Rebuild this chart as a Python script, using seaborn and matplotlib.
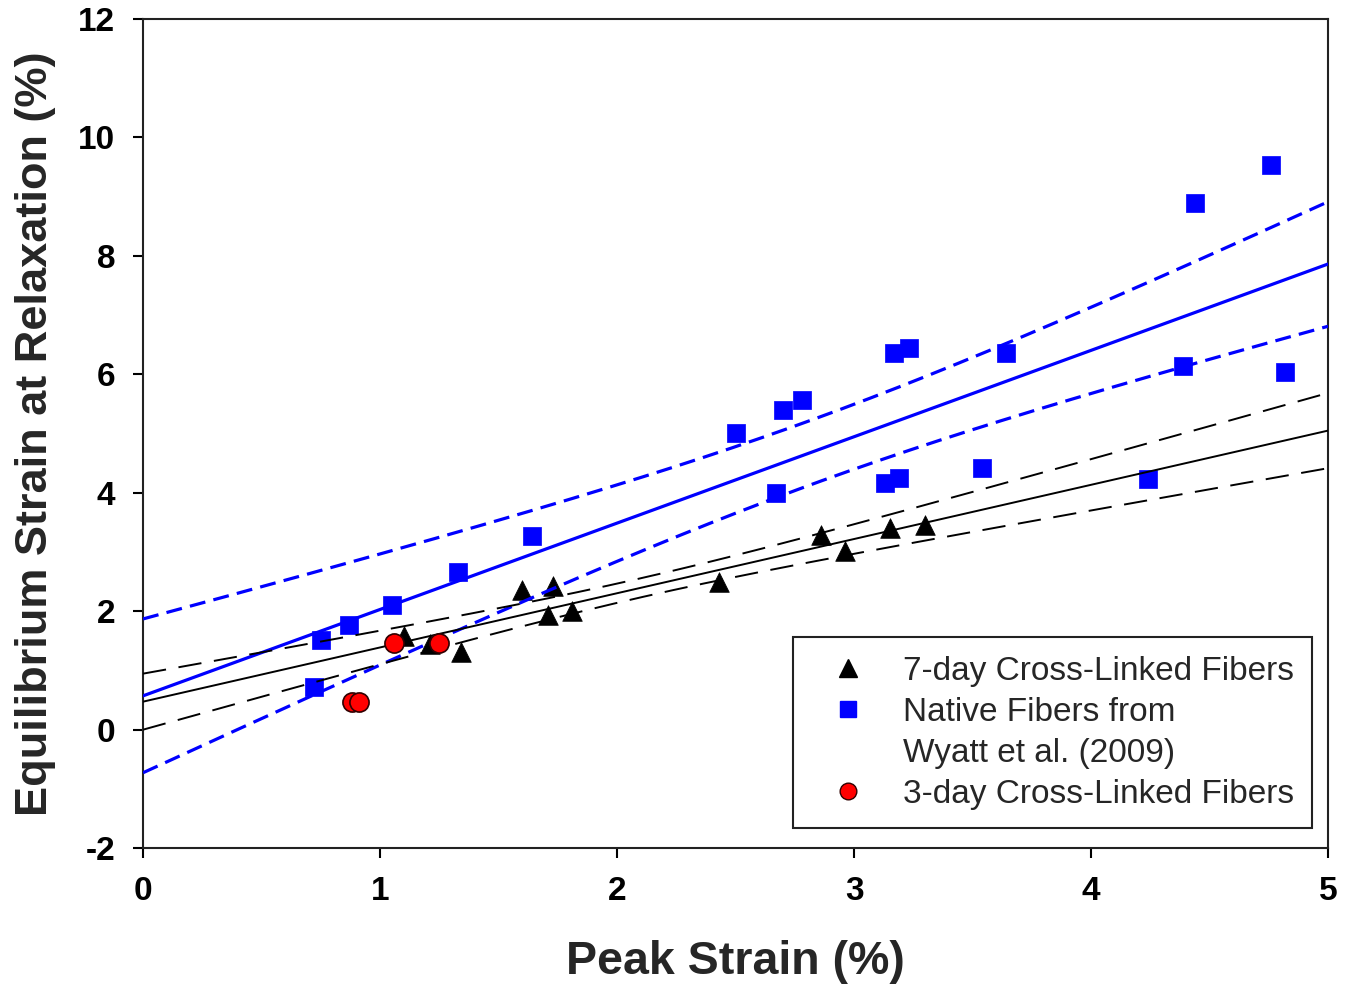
import numpy as np
import pandas as pd
import matplotlib
matplotlib.use("Agg")
import matplotlib.pyplot as plt
from matplotlib.lines import Line2D
import seaborn as sns

# ---------------- data ----------------
day7_x = [1.10, 1.21, 1.34, 1.60, 1.73, 1.71, 1.81, 2.43, 2.86, 2.96, 3.15, 3.30]
day7_y = [1.58, 1.45, 1.31, 2.36, 2.42, 1.94, 2.00, 2.49, 3.29, 3.02, 3.41, 3.46]

native_x = [0.72, 0.75, 0.87, 1.05, 1.33, 1.64, 2.50, 2.67, 2.70, 2.78, 3.13,
            3.17, 3.19, 3.23, 3.54, 3.64, 4.24, 4.39, 4.44, 4.76, 4.82]
native_y = [0.72, 1.51, 1.77, 2.10, 2.66, 3.27, 5.01, 4.00, 5.40, 5.57, 4.16,
            6.36, 4.25, 6.44, 4.42, 6.36, 4.24, 6.14, 8.89, 9.53, 6.04]

day3_x = [0.88, 0.91, 1.06, 1.25]
day3_y = [0.46, 0.46, 1.47, 1.46]

x_ticks = [0, 1, 2, 3, 4, 5]
y_ticks = [-2, 0, 2, 4, 6, 8, 10, 12]

labels = ["7-day Cross-Linked Fibers", "Native Fibers from", "Wyatt et al. (2009)",
          "3-day Cross-Linked Fibers"]

# two-sided 95% t quantiles for the residual degrees of freedom
T95 = {10: 2.228, 19: 2.093}


def fit_with_band(x, y, xs):
    x = np.asarray(x, float)
    y = np.asarray(y, float)
    n = len(x)
    b, a = np.polyfit(x, y, 1)
    yhat = a + b * xs
    resid = y - (a + b * x)
    s = np.sqrt(np.sum(resid ** 2) / (n - 2))
    sxx = np.sum((x - x.mean()) ** 2)
    half = T95[n - 2] * s * np.sqrt(1.0 / n + (xs - x.mean()) ** 2 / sxx)
    return yhat, yhat - half, yhat + half


# ---------------- style ----------------
sns.set_theme(style="ticks")
plt.rcParams["font.family"] = ["Liberation Sans", "DejaVu Sans"]

fig = plt.figure(figsize=(13.56, 9.91), dpi=100)
ax = fig.add_axes([0.1055, 0.1443, 0.8739, 0.8365])

xs = np.linspace(0, 5, 200)
BLUE = "#0000ff"

# fit lines
for (x, y, col, lw, dash) in [
    (native_x, native_y, BLUE, 2.3, (5, 2.6)),
    (day7_x, day7_y, "black", 1.4, (12, 6.5)),
]:
    yhat, lo, hi = fit_with_band(x, y, xs)
    sns.lineplot(x=xs, y=yhat, ax=ax, color=col, lw=lw, zorder=3)
    for band in (lo, hi):
        l = sns.lineplot(x=xs, y=band, ax=ax, color=col, lw=lw, zorder=3)
        l.lines[-1].set_dashes(dash)

# points
sns.scatterplot(x=day7_x, y=day7_y, ax=ax, marker="^", s=200, color="black",
                edgecolor="black", linewidth=0.5, zorder=2)
sns.scatterplot(x=native_x, y=native_y, ax=ax, marker="s", s=150, color=BLUE,
                edgecolor=BLUE, linewidth=0.5, zorder=2)
sns.scatterplot(x=day3_x, y=day3_y, ax=ax, marker="o", s=190, color="#ff0000",
                edgecolor="#300000", linewidth=1.2, zorder=4)

ax.set_xlim(0, 5)
ax.set_ylim(-2, 12)
ax.set_xticks(x_ticks)
ax.set_yticks(y_ticks)
ax.set_xticklabels([str(t) for t in x_ticks], fontsize=24, fontweight="bold")
ax.set_yticklabels([str(t) for t in y_ticks], fontsize=24, fontweight="bold")
ax.tick_params(axis="both", direction="out", length=7, width=1.5, colors="black",
               top=False, right=False)
ax.tick_params(axis="x", pad=13)
ax.tick_params(axis="y", pad=13)
for sp in ax.spines.values():
    sp.set_visible(True)
    sp.set_color("#222222")
    sp.set_linewidth(1.5)

ax.set_xlabel("Peak Strain (%)", fontsize=33.5, fontweight="bold", labelpad=24)
ax.set_ylabel("Equilibrium Strain at Relaxation (%)", fontsize=32.5,
              fontweight="bold", labelpad=16)
ax.grid(False)

handles = [
    Line2D([], [], marker="^", ls="none", color="black", markersize=13),
    Line2D([], [], marker="s", ls="none", color=BLUE, markersize=12),
    Line2D([], [], ls="none", marker=None),
    Line2D([], [], marker="o", ls="none", markerfacecolor="#ff0000",
           markeredgecolor="#300000", markersize=12),
]
leg = ax.legend(handles, labels, loc="lower right", bbox_to_anchor=(0.9865, 0.024),
                borderaxespad=0, fontsize=24, frameon=True, fancybox=False,
                edgecolor="#222222", framealpha=1, handlelength=2.2,
                handletextpad=0.55, borderpad=0.55, labelspacing=0.3)
leg.get_frame().set_linewidth(1.5)

fig.savefig("out.png", dpi=100)
